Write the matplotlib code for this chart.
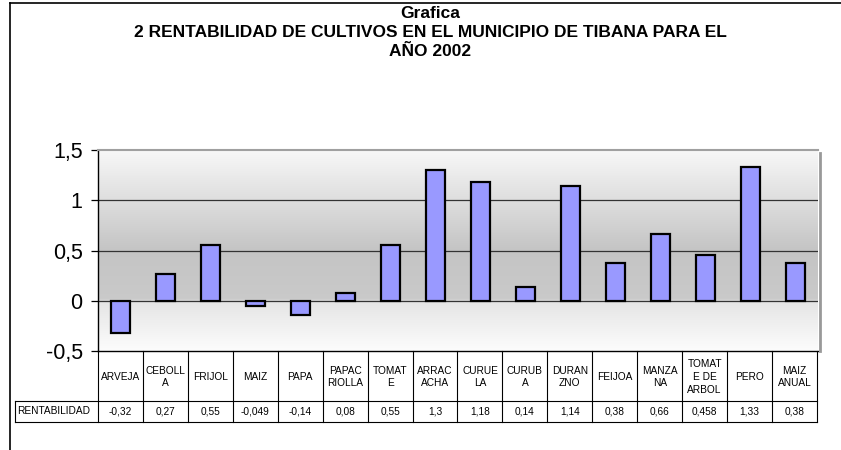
import numpy as np
import matplotlib
matplotlib.use("Agg")
import matplotlib.pyplot as plt
from matplotlib.lines import Line2D

plt.rcParams['font.family'] = ['Liberation Sans', 'DejaVu Sans']

# datos de la grafica
cultivos = ["ARVEJA", "CEBOLL\nA", "FRIJOL", "MAIZ", "PAPA", "PAPAC\nRIOLLA",
            "TOMAT\nE", "ARRAC\nACHA", "CURUE\nLA", "CURUB\nA", "DURAN\nZNO",
            "FEIJOA", "MANZA\nNA", "TOMAT\nE DE\nARBOL", "PERO", "MAIZ\nANUAL"]
rentabilidad = [-0.32, 0.27, 0.55, -0.049, -0.14, 0.08, 0.55, 1.3, 1.18, 0.14,
                1.14, 0.38, 0.66, 0.458, 1.33, 0.38]
serie = "RENTABILIDAD"
y_ticks = [-0.5, 0, 0.5, 1, 1.5]
y_labels = ["-0,5", "0", "0,5", "1", "1,5"]
titulo = "Grafica\n2 RENTABILIDAD DE CULTIVOS EN EL MUNICIPIO DE TIBANA PARA EL\nAÑO 2002"

W, H = 841, 450
fig = plt.figure(figsize=(W / 100, H / 100), dpi=100)

x0, x1 = 98, 818
y_top, y_bot = 150, 351
ax = fig.add_axes([x0 / W, 1 - y_bot / H, (x1 - x0) / W, (y_bot - y_top) / H])

n = len(rentabilidad)
xs = np.arange(n)
ax.set_xlim(-0.5, n - 0.5)
ax.set_ylim(-0.5, 1.5)

# fondo degradado
yy = np.linspace(1.5, -0.5, 400)
stops_y = [1.5, 1.0, 0.5, 0.02, -0.02, -0.5]
stops_c = [0.97, 0.87, 0.77, 0.79, 0.90, 0.99]
g = np.interp(-yy, [-s for s in stops_y], stops_c)
img = np.repeat(g[:, None], 2, axis=1)
ax.imshow(np.dstack([img, img, img]), extent=[-0.5, n - 0.5, -0.5, 1.5],
          aspect='auto', zorder=0, interpolation='bilinear')

for v in [0, 0.5, 1]:
    ax.axhline(v, color='#333333', lw=0.9, zorder=1)

ax.bar(xs, rentabilidad, width=0.42, color='#9999ff', edgecolor='black',
       linewidth=1.6, zorder=3)

ax.set_yticks(y_ticks)
ax.set_yticklabels(y_labels, fontsize=15.5)
ax.tick_params(axis='y', length=5, width=0.9, pad=6, colors='black')
ax.set_xticks([])
for s in ['top', 'right']:
    ax.spines[s].set_visible(False)
ax.spines['left'].set_linewidth(1.0)
ax.spines['bottom'].set_linewidth(1.0)
ax.add_line(Line2D([-0.5, n - 0.5], [1.5, 1.5], color='#a0a0a0', lw=1.5,
                   clip_on=False, zorder=4))
# sombra derecha
fig.add_artist(Line2D([(x1 + 1.5) / W] * 2, [1 - (y_top + 3) / H, 1 - y_bot / H],
                      color='#999999', lw=2.0))

# tabla de datos
def fx(px):
    return px / W

def fy(py):
    return 1 - py / H

hdr_top, hdr_bot, row_bot = 351, 401, 422
lab_left = 15
col_w = (x1 - 1 - x0) / n
lc = 'black'
lw = 0.8
for i in range(n + 1):
    xp = x0 + i * col_w
    fig.add_artist(Line2D([fx(xp)] * 2, [fy(hdr_top), fy(row_bot)], color=lc, lw=lw))
fig.add_artist(Line2D([fx(lab_left), fx(x0 + n * col_w)], [fy(hdr_bot)] * 2, color=lc, lw=lw))
fig.add_artist(Line2D([fx(lab_left), fx(x0 + n * col_w)], [fy(row_bot)] * 2, color=lc, lw=lw))
fig.add_artist(Line2D([fx(lab_left)] * 2, [fy(hdr_bot), fy(row_bot)], color=lc, lw=lw))

fs = 7.3
for i, (c, v) in enumerate(zip(cultivos, rentabilidad)):
    cx = x0 + (i + 0.5) * col_w
    fig.text(fx(cx), fy((hdr_top + hdr_bot) / 2 + 1), c, ha='center', va='center',
             fontsize=fs, linespacing=1.35)
    fig.text(fx(cx), fy((hdr_bot + row_bot) / 2), str(v).replace('.', ','),
             ha='center', va='center', fontsize=fs)
fig.text(fx(lab_left + 2), fy((hdr_bot + row_bot) / 2), serie, ha='left',
         va='center', fontsize=fs)

# titulo
fig.text(fx(430), fy(32.5), titulo, ha='center', va='center', fontsize=12.5,
         fontweight='bold', linespacing=1.37)

# marco exterior
fig.add_artist(Line2D([fx(10), fx(10)], [fy(3), 0], color='black', lw=1.2))
fig.add_artist(Line2D([fx(10), 1], [fy(3), fy(3)], color='black', lw=1.2))

fig.savefig("out.png", dpi=100)
